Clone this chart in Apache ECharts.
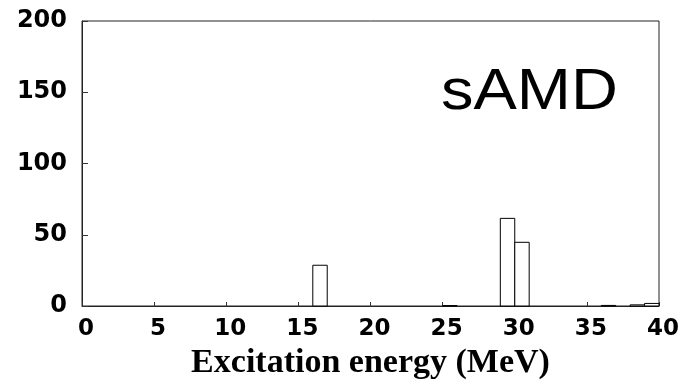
<!DOCTYPE html>
<html>
<head>
<meta charset="utf-8">
<script src="https://cdn.jsdelivr.net/npm/echarts@6/dist/echarts.min.js"></script>
<style>html,body{margin:0;padding:0;background:#fff;}#c{width:685px;height:381px;}</style>
</head>
<body>
<div id="c"></div>
<script>
// Histogram bins: lower edge (MeV), upper edge (MeV), counts
var binStart = [16, 25, 29, 30, 36, 38, 39];
var binEnd   = [17, 26, 30, 31, 37, 39, 40];
var counts   = [28.6, 0.3, 61.5, 44.7, 0.4, 0.8, 1.8];
var xTicks = [0, 5, 10, 15, 20, 25, 30, 35, 40];
var yTicks = [0, 50, 100, 150, 200];

var data = binStart.map(function (s, i) { return [s, binEnd[i], counts[i]]; });

var chart = echarts.init(document.getElementById('c'));
chart.setOption({
  animation: false,
  backgroundColor: '#fff',
  grid: { left: 82, right: 26, top: 21, bottom: 75, outerBoundsMode: 'none', containLabel: false,
          show: true, borderColor: '#222', borderWidth: 1, backgroundColor: 'transparent' },
  xAxis: {
    type: 'value', min: xTicks[0], max: xTicks[xTicks.length - 1], interval: 5,
    axisLine: { lineStyle: { color: '#222', width: 1 } },
    axisTick: { inside: true, length: 4, lineStyle: { color: '#333' } },
    splitLine: { show: false },
    axisLabel: { color: '#000', fontFamily: 'DejaVu Sans', fontWeight: 'bold', fontSize: 23, margin: 12, padding: [0, 0, 0, 8] },
    name: 'Excitation energy (MeV)', nameLocation: 'middle', nameGap: 40,
    nameTextStyle: { color: '#000', fontFamily: 'Liberation Serif', fontWeight: 'bold', fontSize: 34 }
  },
  yAxis: {
    type: 'value', min: yTicks[0], max: yTicks[yTicks.length - 1], interval: 50,
    axisLine: { show: true, lineStyle: { color: '#222', width: 1 } },
    axisTick: { show: true, inside: true, length: 6, lineStyle: { color: '#333' } },
    splitLine: { show: false },
    axisLabel: { color: '#000', fontFamily: 'DejaVu Sans', fontWeight: 'bold', fontSize: 24, margin: 15 }
  },
  graphic: [{
    type: 'text', x: 441, y: 93, scaleX: 1.12, originX: 0, originY: 0,
    style: { text: 'sAMD', font: '58px "Liberation Sans"', fill: '#000', textVerticalAlign: 'middle', verticalAlign: 'middle' }
  }],
  series: [{
    type: 'custom',
    data: data,
    renderItem: function (params, api) {
      var p0 = api.coord([api.value(0), api.value(2)]);
      var p1 = api.coord([api.value(1), 0]);
      return {
        type: 'rect',
        shape: { x: p0[0], y: p0[1], width: p1[0] - p0[0], height: p1[1] - p0[1] },
        style: { fill: '#fff', stroke: '#000', lineWidth: 1 }
      };
    }
  }]
});
</script>
</body>
</html>
